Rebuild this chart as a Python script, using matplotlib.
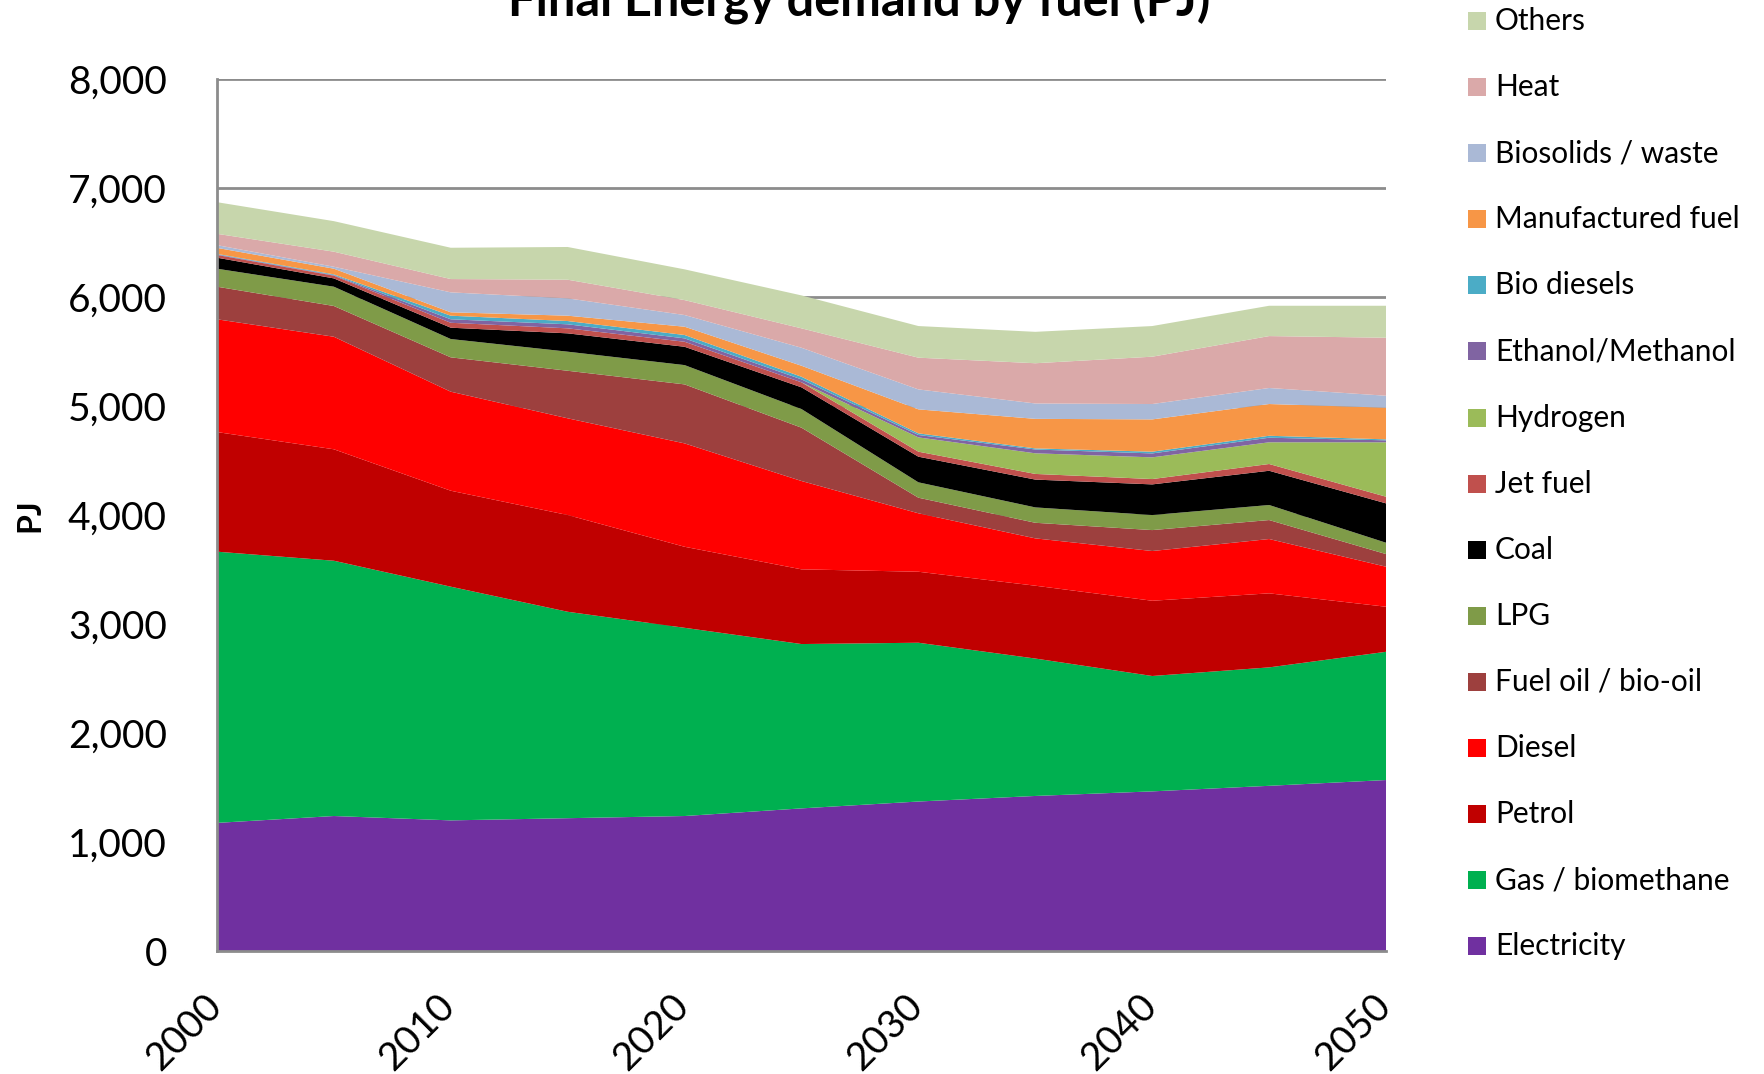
import matplotlib.pyplot as plt
from matplotlib.patches import Rectangle
from matplotlib.transforms import ScaledTranslation

# Final energy demand by fuel (PJ)
years = [2000, 2005, 2010, 2015, 2020, 2025, 2030, 2035, 2040, 2045, 2050]

electricity = [1177, 1240, 1200, 1220, 1240, 1310, 1373, 1424, 1466, 1517, 1570]
gas = [2487, 2341, 2143, 1893, 1726, 1507, 1456, 1260, 1058, 1086, 1176]
petrol = [1097, 1022, 880, 887, 743, 685, 651, 668, 690, 679, 413]
diesel = [1034, 1032, 908, 887, 948, 810, 536, 434, 456, 498, 367]
fuel_oil = [299, 282, 315, 436, 541, 489, 143, 143, 192, 174, 116]
lpg = [165, 177, 168, 175, 177, 171, 141, 141, 138, 138, 104]
coal = [101, 76, 104, 168, 168, 199, 235, 255, 281, 314, 361]
jet_fuel = [25, 25, 45, 46, 46, 46, 46, 52, 49, 62, 61]
hydrogen = [0, 0, 0, 0, 0, 0, 131, 189, 199, 199, 499]
ethanol = [5, 5, 32, 37, 31, 27, 22, 35, 36, 42, 18]
bio_diesels = [5, 7, 33, 30, 31, 24, 15, 10, 16, 18, 9]
manufactured = [55, 52, 31, 49, 76, 101, 220, 271, 296, 291, 290]
biosolids = [25, 18, 183, 159, 107, 165, 183, 141, 141, 147, 110]
heat = [104, 138, 122, 171, 137, 178, 291, 369, 434, 476, 532]
others = [290, 280, 287, 300, 282, 302, 290, 288, 281, 278, 293]

labels = ['Electricity', 'Gas / biomethane', 'Petrol', 'Diesel', 'Fuel oil / bio-oil',
          'LPG', 'Coal', 'Jet fuel', 'Hydrogen', 'Ethanol/Methanol', 'Bio diesels',
          'Manufactured fuel', 'Biosolids / waste', 'Heat', 'Others']
colors = ['#7030A0', '#00B050', '#C00000', '#FF0000', '#9D403E',
          '#7F9B48', '#000000', '#C0504D', '#9BBB59', '#8064A2', '#4BACC6',
          '#F79646', '#AAB9D6', '#DAA9A9', '#C7D6AC']
series = [electricity, gas, petrol, diesel, fuel_oil, lpg, coal, jet_fuel, hydrogen,
          ethanol, bio_diesels, manufactured, biosolids, heat, others]

plt.rcParams['font.family'] = ['Lato', 'DejaVu Sans']

fig = plt.figure(figsize=(17.65, 10.74), dpi=100)
ax = fig.add_axes([0.1229, 0.1143, 0.6624, 0.8123])

# Stacked areas
ax.stackplot(years, *series, colors=colors, linewidth=0, zorder=2)

# Gridlines and frame
ax.set_xlim(2000, 2050)
ax.set_ylim(0, 8000)
ax.set_yticks(range(0, 8001, 1000))
ax.set_yticklabels(['{:,}'.format(v) for v in range(0, 8001, 1000)])
ax.set_xticks(range(2000, 2051, 10))
ax.yaxis.grid(True, color='#8C8C8C', linewidth=2, zorder=1)
ax.set_axisbelow(True)
for side in ['top', 'right']:
    ax.spines[side].set_visible(False)
for side in ['left', 'bottom']:
    ax.spines[side].set_color('#8C8C8C')
    ax.spines[side].set_linewidth(2)
    ax.spines[side].set_zorder(3)
ax.tick_params(axis='y', length=0, labelsize=28, pad=36)
ax.tick_params(axis='x', length=0, labelsize=28, pad=26)

# Rotated year labels, nudged left a little
shift = ScaledTranslation(-14 / 100, 0, fig.dpi_scale_trans)
for lab in ax.get_xticklabels():
    lab.set_rotation(45)
    lab.set_ha('right')
    lab.set_rotation_mode('anchor')
    lab.set_transform(lab.get_transform() + shift)

fig.text(30 / 1765, 1 - 515 / 1074, 'PJ', fontsize=23, fontweight='bold',
         rotation=90, ha='center', va='center')

# Title sits partly above the canvas as in the source
fig.text(0.487, 1 - 16 / 1074, 'Final Energy demand by fuel (PJ)', fontsize=35,
         fontweight='bold', ha='center', va='baseline')

# Legend, top entry is the top of the stack
top_y = 1 - 21 / 1074
step = 66.1 / 1074
for i, (name, col) in enumerate(zip(labels[::-1], colors[::-1])):
    yc = top_y - i * step
    fig.patches.append(Rectangle((1468 / 1765, yc - 9 / 1074), 18 / 1765, 18 / 1074,
                                 transform=fig.transFigure, facecolor=col,
                                 edgecolor='none'))
    fig.text(1495 / 1765, yc, name, fontsize=21.5, va='center', ha='left')

fig.savefig('out.png', dpi=100)
